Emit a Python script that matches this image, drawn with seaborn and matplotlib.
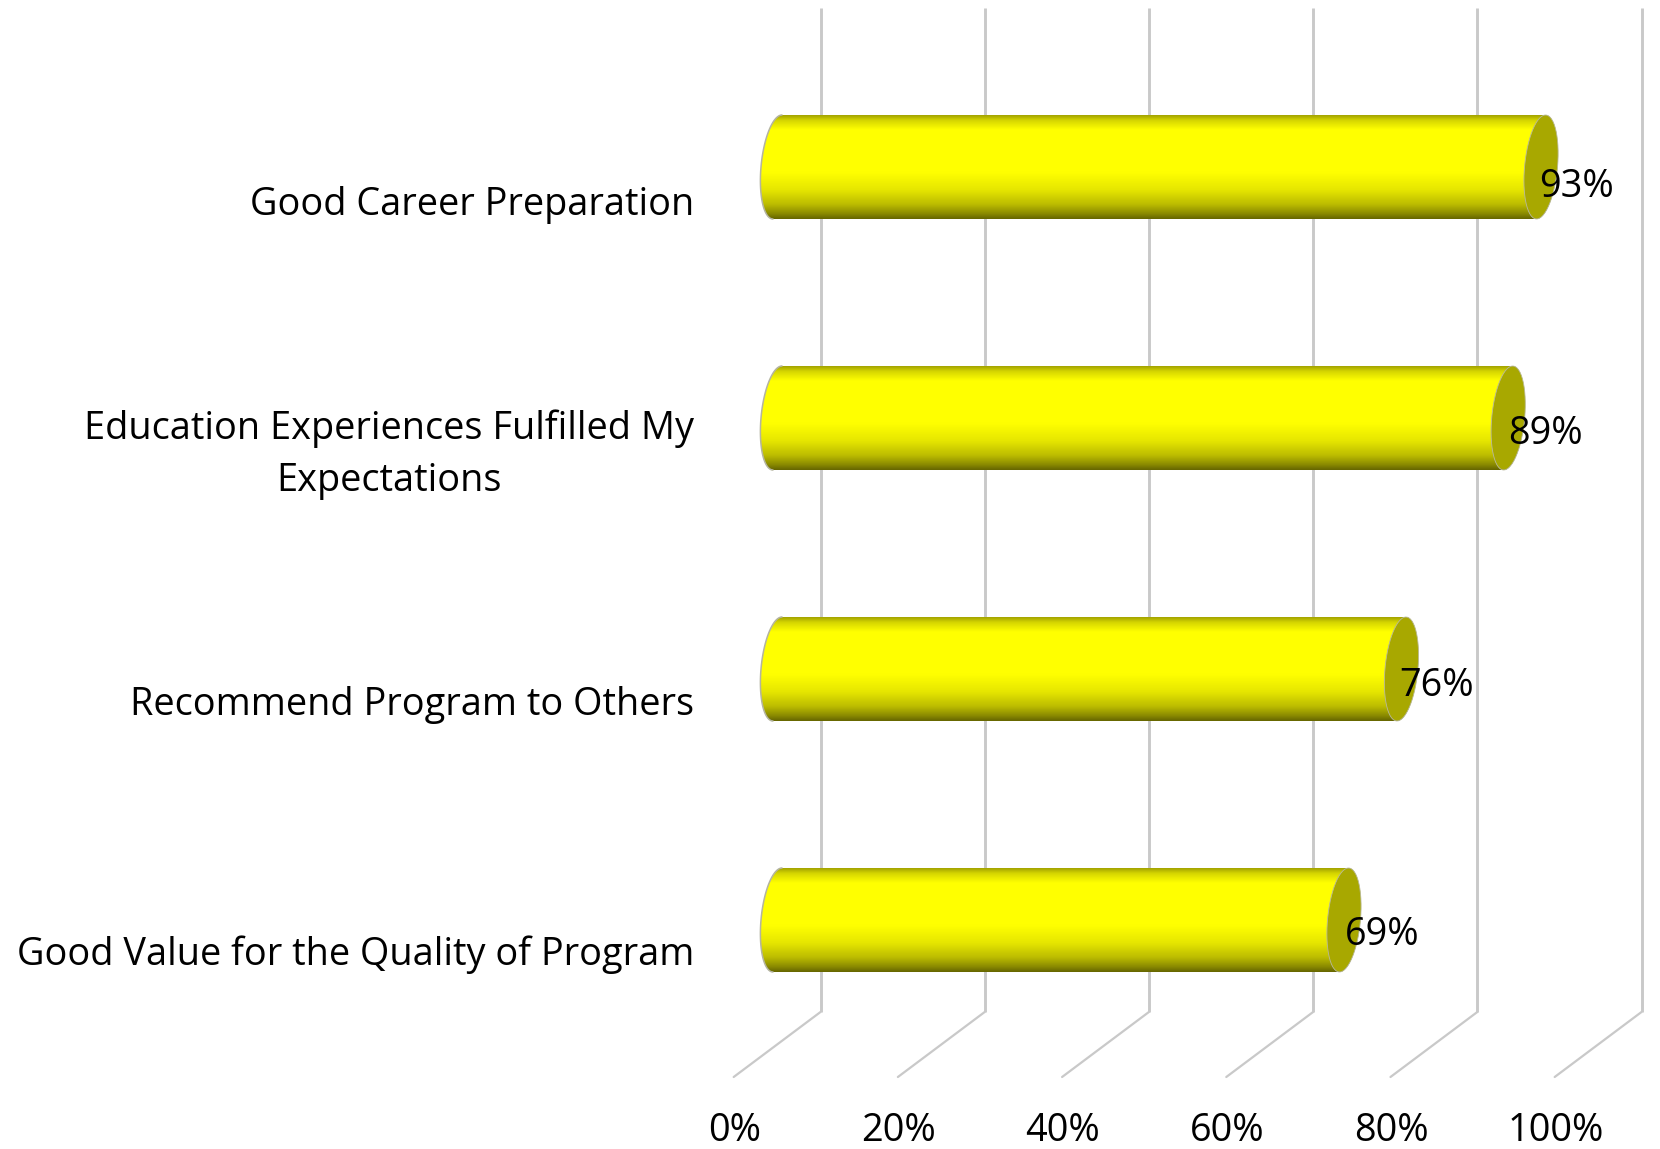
import numpy as np
import pandas as pd
import matplotlib.pyplot as plt
import seaborn as sns
from matplotlib.colors import LinearSegmentedColormap
from matplotlib.patches import PathPatch
from matplotlib.path import Path
from matplotlib.transforms import ScaledTranslation

# values
categories = ['Good Career Preparation',
              'Education Experiences Fulfilled My\nExpectations',
              'Recommend Program to Others',
              'Good Value for the Quality of Program']
scores = [93, 89, 76, 69]
x_ticks = [0, 20, 40, 60, 80, 100]
x_tick_labels = ['0%', '20%', '40%', '60%', '80%', '100%']

W, H = 1660, 1149
AX_LEFT, AX_BOTTOM = 700, 1093   # px
PX_PER_PCT = 8.21
ZERO_PX = 777.5
ROW0_PX = 167
ROW_PX = 251
DEPTH_PX = 86
FONT = 27.3

GRID = '#c9c9c9'
CAP = '#a8a800'

sns.set_theme(style='white')
plt.rcParams['font.family'] = ['Open Sans', 'DejaVu Sans']

fig = plt.figure(figsize=(W / 100, H / 100), dpi=100)
ax = fig.add_axes([AX_LEFT / W, 1 - AX_BOTTOM / H, 1 - AX_LEFT / W, AX_BOTTOM / H])

df = pd.DataFrame({'item': categories, 'score': scores})
sns.barplot(data=df, x='score', y='item', color='yellow', width=104 / ROW_PX,
            saturation=1, orient='h', ax=ax, zorder=3)


def y_data(px):
    return (px - ROW0_PX) / ROW_PX


ax.set_xlim((AX_LEFT - ZERO_PX) / PX_PER_PCT, (W - ZERO_PX) / PX_PER_PCT)
ax.set_ylim(y_data(AX_BOTTOM), y_data(0))
xlim, ylim = ax.get_xlim(), ax.get_ylim()

# back wall gridlines, each with a diagonal running to the front of the floor
depth = DEPTH_PX / PX_PER_PCT
for t in x_ticks:
    ax.plot([t + depth / 2, t + depth / 2], [y_data(8), y_data(1012)],
            color=GRID, lw=2.1, zorder=1, solid_capstyle='butt')
    ax.plot([t + depth / 2, t - depth / 2 - 0.1], [y_data(1012), y_data(1077)],
            color=GRID, lw=1.6, zorder=1)

# cylinder shading, top to bottom
shade = LinearSegmentedColormap.from_list('cyl', [
    (0.00, '#a3a300'), (0.05, '#d6d600'), (0.14, '#ffff00'), (0.55, '#ffff00'),
    (0.72, '#e6e600'), (0.86, '#bcbc00'), (0.95, '#8a8a00'), (1.00, '#666600')])
gradient = np.linspace(0, 1, 256).reshape(-1, 1)


def end_points(cx, cy, half_h, start, stop):
    # sheared ellipse seen at the end of a bar
    t = np.linspace(start, stop, 60)
    a = 16.5 / PX_PER_PCT
    s = 4.5 / PX_PER_PCT
    return np.column_stack([cx + a * np.cos(t) - s * np.sin(t), cy + half_h * np.sin(t)])


for bar in list(ax.patches):
    x1 = bar.get_width()
    y0 = bar.get_y()
    h = bar.get_height()
    cy = y0 + h / 2
    # y axis is inverted: sin = -1 is the top of the bar
    left = end_points(0, cy, h / 2, -np.pi / 2, -3 * np.pi / 2)
    right = end_points(x1, cy, h / 2, np.pi / 2, -np.pi / 2)
    body = np.vstack([left, right, left[:1]])
    outline = PathPatch(Path(body), fc='none', ec='none', transform=ax.transData)
    ax.add_patch(outline)
    bar.set_clip_path(outline)
    img = ax.imshow(gradient, cmap=shade, aspect='auto', zorder=3.1,
                    extent=(-4, x1 + 4, y0 + h, y0), interpolation='bilinear')
    img.set_clip_path(outline)
    ax.plot(left[:, 0], left[:, 1], color='#b4b4a0', lw=1.1, zorder=3.2)
    cap = end_points(x1, cy, h / 2, 0, 2 * np.pi)
    ax.add_patch(PathPatch(Path(cap), fc=CAP, ec='#b8b8a0', lw=0.6, zorder=3.3))

ax.set_xlim(xlim)
ax.set_ylim(ylim)

# value labels sit just past the end cap
offsets = [(35, -20), (37, -16), (35, -17), (38, -15)]
for i, v in enumerate(scores):
    ax.annotate(f'{v}%', (v, i), xytext=offsets[i], textcoords='offset pixels',
                ha='center', va='center', fontsize=FONT, color='black', zorder=5)

ax.set_xlabel('')
ax.set_ylabel('')
ax.set_xticks(x_ticks, x_tick_labels)
ax.tick_params(axis='both', length=0, labelsize=FONT, labelcolor='black')
ax.tick_params(axis='y', pad=4)
ax.tick_params(axis='x', pad=14)
label_drop = [33, 25, 31, 30]
for lab, drop in zip(ax.get_yticklabels(), label_drop):
    lab.set_multialignment('center')
    lab.set_linespacing(1.5)
    lab.set_transform(lab.get_transform() + ScaledTranslation(0, -drop / 100, fig.dpi_scale_trans))
for lab in ax.get_xticklabels():
    lab.set_transform(lab.get_transform() + ScaledTranslation(-DEPTH_PX / 2 / 100, 0, fig.dpi_scale_trans))
sns.despine(ax=ax, left=True, bottom=True, top=True, right=True)
ax.patch.set_alpha(0)

fig.savefig('out.png', dpi=100, facecolor='white')
